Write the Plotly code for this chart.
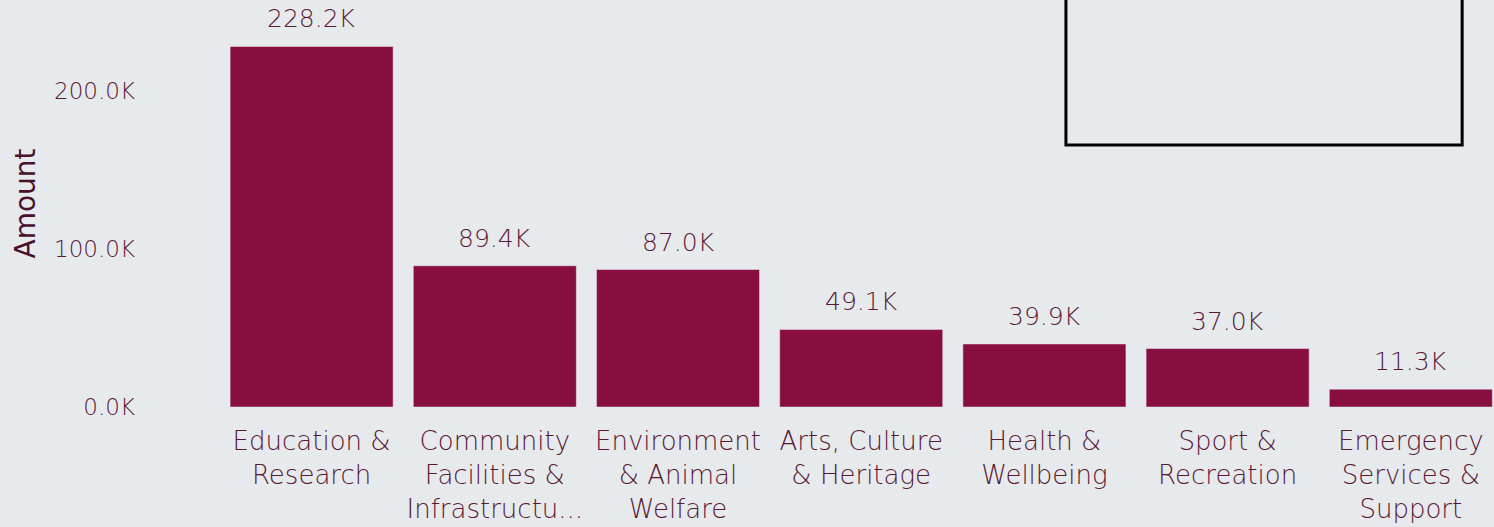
import plotly.graph_objects as go

categories = ["Education & Research", "Community Facilities & Infrastructure",
              "Environment & Animal Welfare", "Arts, Culture & Heritage",
              "Health & Wellbeing", "Sport & Recreation", "Emergency Services & Support"]
amounts = [228200, 89400, 87000, 49100, 39900, 37000, 11300]
tick_labels = ["Education &<br>Research", "Community<br>Facilities &<br>Infrastructu...",
               "Environment<br>& Animal<br>Welfare", "Arts, Culture<br>& Heritage",
               "Health &<br>Wellbeing", "Sport &<br>Recreation",
               "Emergency<br>Services &<br>Support"]
y_ticks = [0, 100000, 200000]
y_tick_text = ["0.0K", "100.0K", "200.0K"]

bar_color = "#880e40"
text_color = "#5a1834"
bg = "#e7eaed"
font_family = "DejaVu Sans"

labels = [f"{v/1000:.1f}K" for v in amounts]

fig = go.Figure(go.Bar(
    x=categories, y=amounts, marker_color=bar_color, showlegend=False,
))

for c, v, t in zip(categories, amounts, labels):
    fig.add_annotation(x=c, y=v, text=t, showarrow=False, yanchor="bottom", yshift=11,
                       font=dict(family=font_family, size=25, color=text_color, weight=200))

fig.update_layout(
    width=1494, height=527,
    margin=dict(l=220, r=0, t=0, b=120),
    paper_bgcolor=bg, plot_bgcolor=bg,
    bargap=0.11,
    font=dict(family=font_family, color=text_color, weight=200),
    xaxis=dict(range=[-0.5, 6.454], tickmode="array", tickvals=categories,
               ticktext=tick_labels, tickangle=0, showgrid=False, zeroline=False,
               ticklabelstandoff=16,
               tickfont=dict(size=26, color=text_color, family=font_family, weight=200),
               automargin=False),
    yaxis=dict(range=[0, 257600], tickmode="array", tickvals=y_ticks, ticktext=y_tick_text,
               showgrid=False, zeroline=False, ticklabelstandoff=84,
               tickfont=dict(size=23, color=text_color, family=font_family, weight=200),
               title=dict(text="Amount", standoff=10,
                          font=dict(size=28, color="#4a0f2a", family=font_family, weight=400)),
               automargin=False),
    shapes=[dict(type="rect", xref="paper", yref="paper", x0=0.664, x1=0.975,
                 y0=0.6437, y1=1.2, line=dict(color="black", width=3), fillcolor="rgba(0,0,0,0)")],
)

fig.write_html("out.html", config={"displayModeBar": False},
               post_script="document.body.style.margin='0';document.body.style.background='#e7eaed';document.body.style.overflow='hidden';")
